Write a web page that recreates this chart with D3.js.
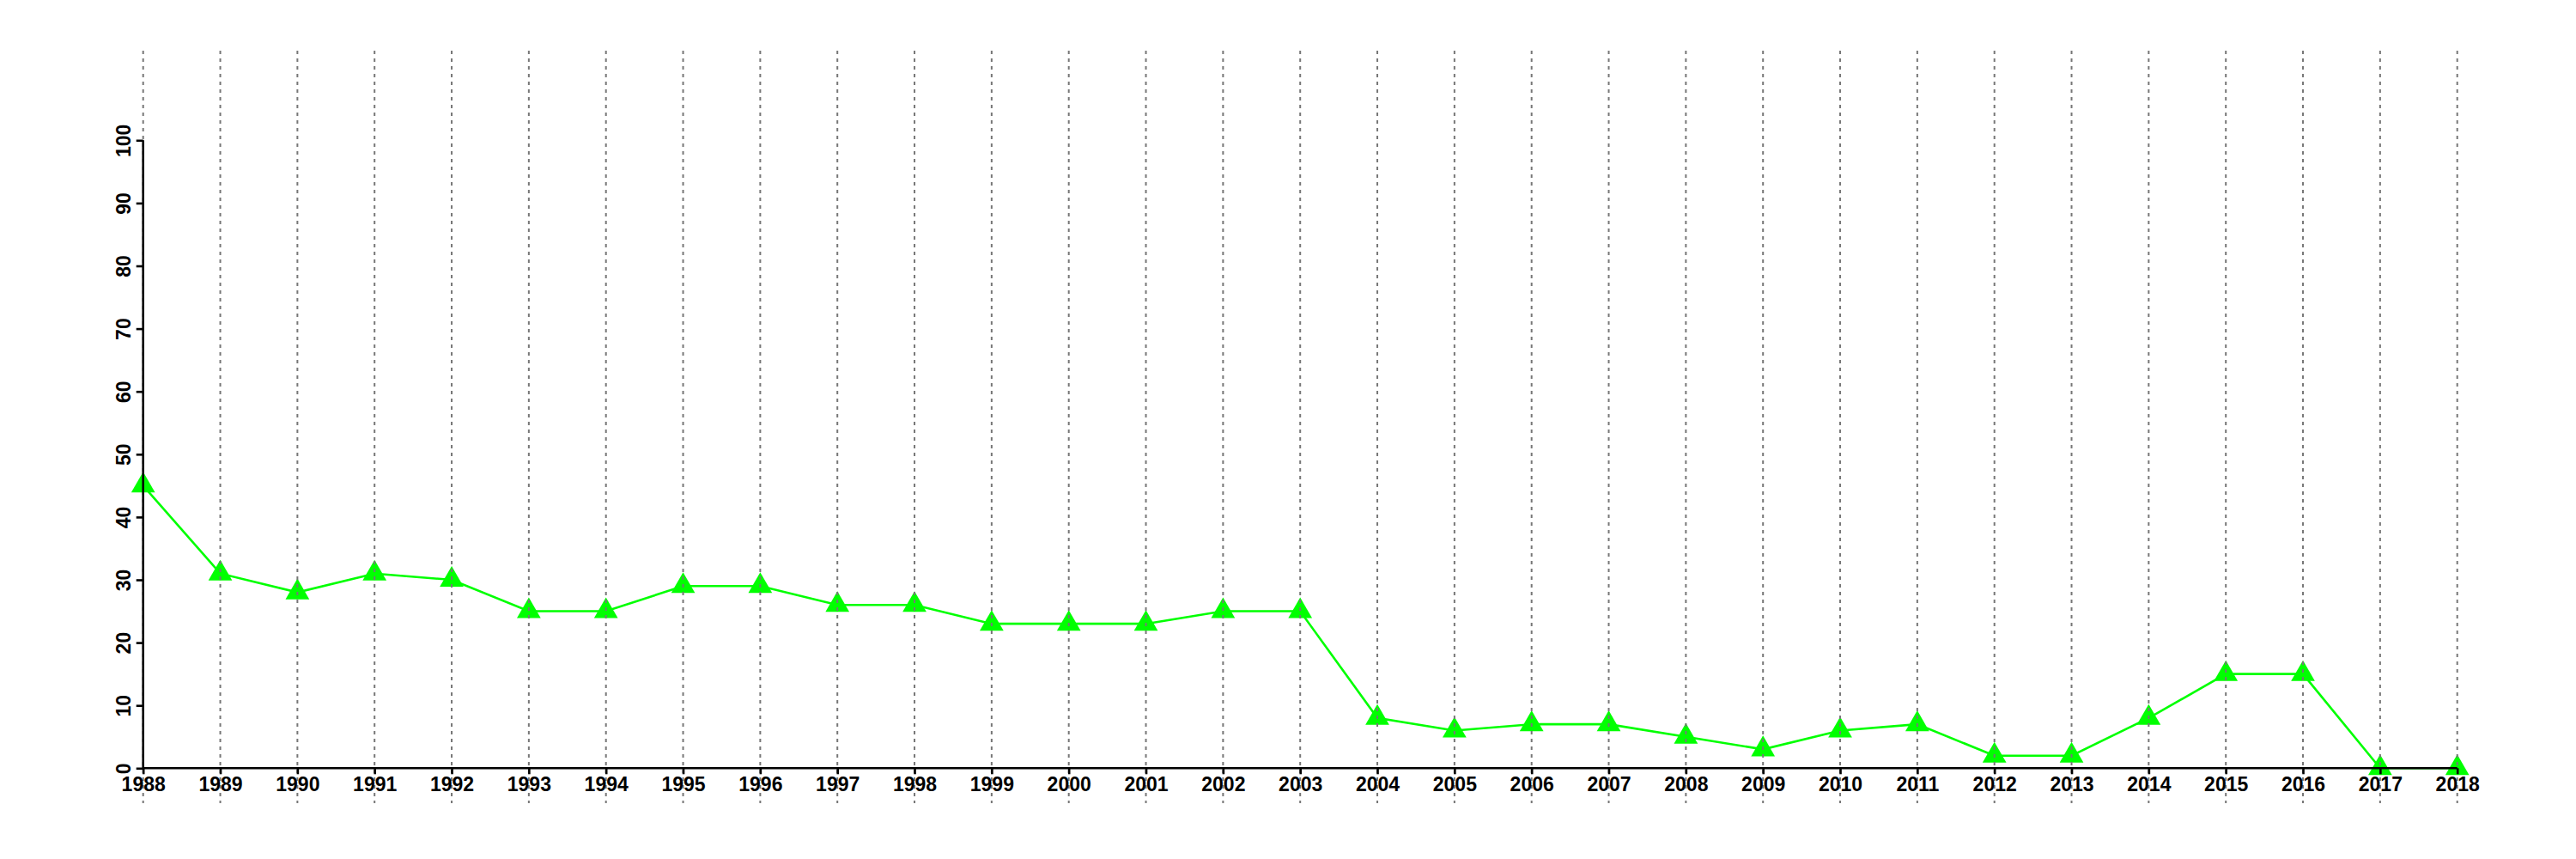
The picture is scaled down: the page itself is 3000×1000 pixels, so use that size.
<!DOCTYPE html>
<html>
<head>
<meta charset="utf-8">
<script src="https://cdn.jsdelivr.net/npm/d3@7"></script>
<style>
  html, body { margin: 0; padding: 0; background: #fff; }
  svg { display: block; }
  text { font-family: "Liberation Sans", Arial, Helvetica, sans-serif; font-weight: bold; font-size: 23px; fill: #000; }
</style>
</head>
<body>
<script>
// ---- data ----
const years = [1988,1989,1990,1991,1992,1993,1994,1995,1996,1997,1998,1999,2000,2001,2002,2003,
               2004,2005,2006,2007,2008,2009,2010,2011,2012,2013,2014,2015,2016,2017,2018];
const values = [45,31,28,31,30,25,25,29,29,26,26,23,23,23,25,25,
                8,6,7,7,5,3,6,7,2,2,8,15,15,0,0];
const yTicks = [0,10,20,30,40,50,60,70,80,90,100];

// ---- layout ----
const W = 3000, H = 1000;
const x0 = 166.7, x1 = 2861.7;
const yBottom = 894.3, yTop = 163.3;
const gridTop = 59, gridBottom = 935;

const svg = d3.select("body").append("svg").attr("width", W).attr("height", H);

const x = d3.scaleLinear().domain([years[0], years[years.length - 1]]).range([x0, x1]);
const y = d3.scaleLinear().domain([0, 100]).range([yBottom, yTop]);

// line
const line = d3.line().x((d, i) => x(years[i])).y(d => y(d));
svg.append("path")
  .datum(values)
  .attr("fill", "none")
  .attr("stroke", "#00ff00")
  .attr("stroke-width", 2.6)
  .attr("d", line);

// triangles (R pch 17 geometry)
const xc = 10.3;
const r = 1.5551 * xc, hw = 1.3468 * xc, yc = 0.7776 * xc;
const tri = d3.path();
tri.moveTo(0, -r); tri.lineTo(hw, yc); tri.lineTo(-hw, yc); tri.closePath();
svg.append("g").selectAll("path")
  .data(values)
  .join("path")
  .attr("transform", (d, i) => `translate(${x(years[i])},${y(d)})`)
  .attr("d", tri.toString())
  .attr("fill", "#00ff00");

// vertical dotted grid lines
svg.append("g").selectAll("line")
  .data(years)
  .join("line")
  .attr("x1", d => x(d)).attr("x2", d => x(d))
  .attr("y1", gridTop).attr("y2", gridBottom)
  .attr("stroke", "#777")
  .attr("stroke-width", 2)
  .attr("stroke-dasharray", "4,5");

// x axis
const xAxis = d3.axisBottom(x).tickValues(years).tickFormat(d3.format("d")).tickSize(7).tickPadding(3);
const gx = svg.append("g").attr("transform", `translate(0,${yBottom})`).call(xAxis);
gx.select(".domain").attr("stroke", "#000").attr("stroke-width", 2.6)
  .attr("d", `M${x0},0H${x1}`);
gx.selectAll(".tick line").attr("stroke", "#000").attr("stroke-width", 2.6);
gx.selectAll(".tick text")
  .attr("y", 26.5).attr("dy", null)
  .style("font-size", "23px").style("font-weight", "bold")
  .style("font-family", '"Liberation Sans", Arial, sans-serif')
  .attr("fill", "#000");

// y axis
const yAxis = d3.axisLeft(y).tickValues(yTicks).tickSize(8).tickFormat(d3.format("d"));
const gy = svg.append("g").attr("transform", `translate(${x0},0)`).call(yAxis);
gy.select(".domain").attr("stroke", "#000").attr("stroke-width", 2.6)
  .attr("d", `M0,${yBottom}V${yTop}`);
gy.selectAll(".tick line").attr("stroke", "#000").attr("stroke-width", 2.6);
gy.selectAll(".tick text")
  .attr("x", null).attr("dy", null)
  .attr("text-anchor", "middle")
  .attr("transform", "translate(-15,0) rotate(-90)")
  .style("font-size", "23px").style("font-weight", "bold")
  .style("font-family", '"Liberation Sans", Arial, sans-serif')
  .attr("fill", "#000");
gy.attr("font-size", null);
gx.attr("font-size", null);
</script>
</body>
</html>
